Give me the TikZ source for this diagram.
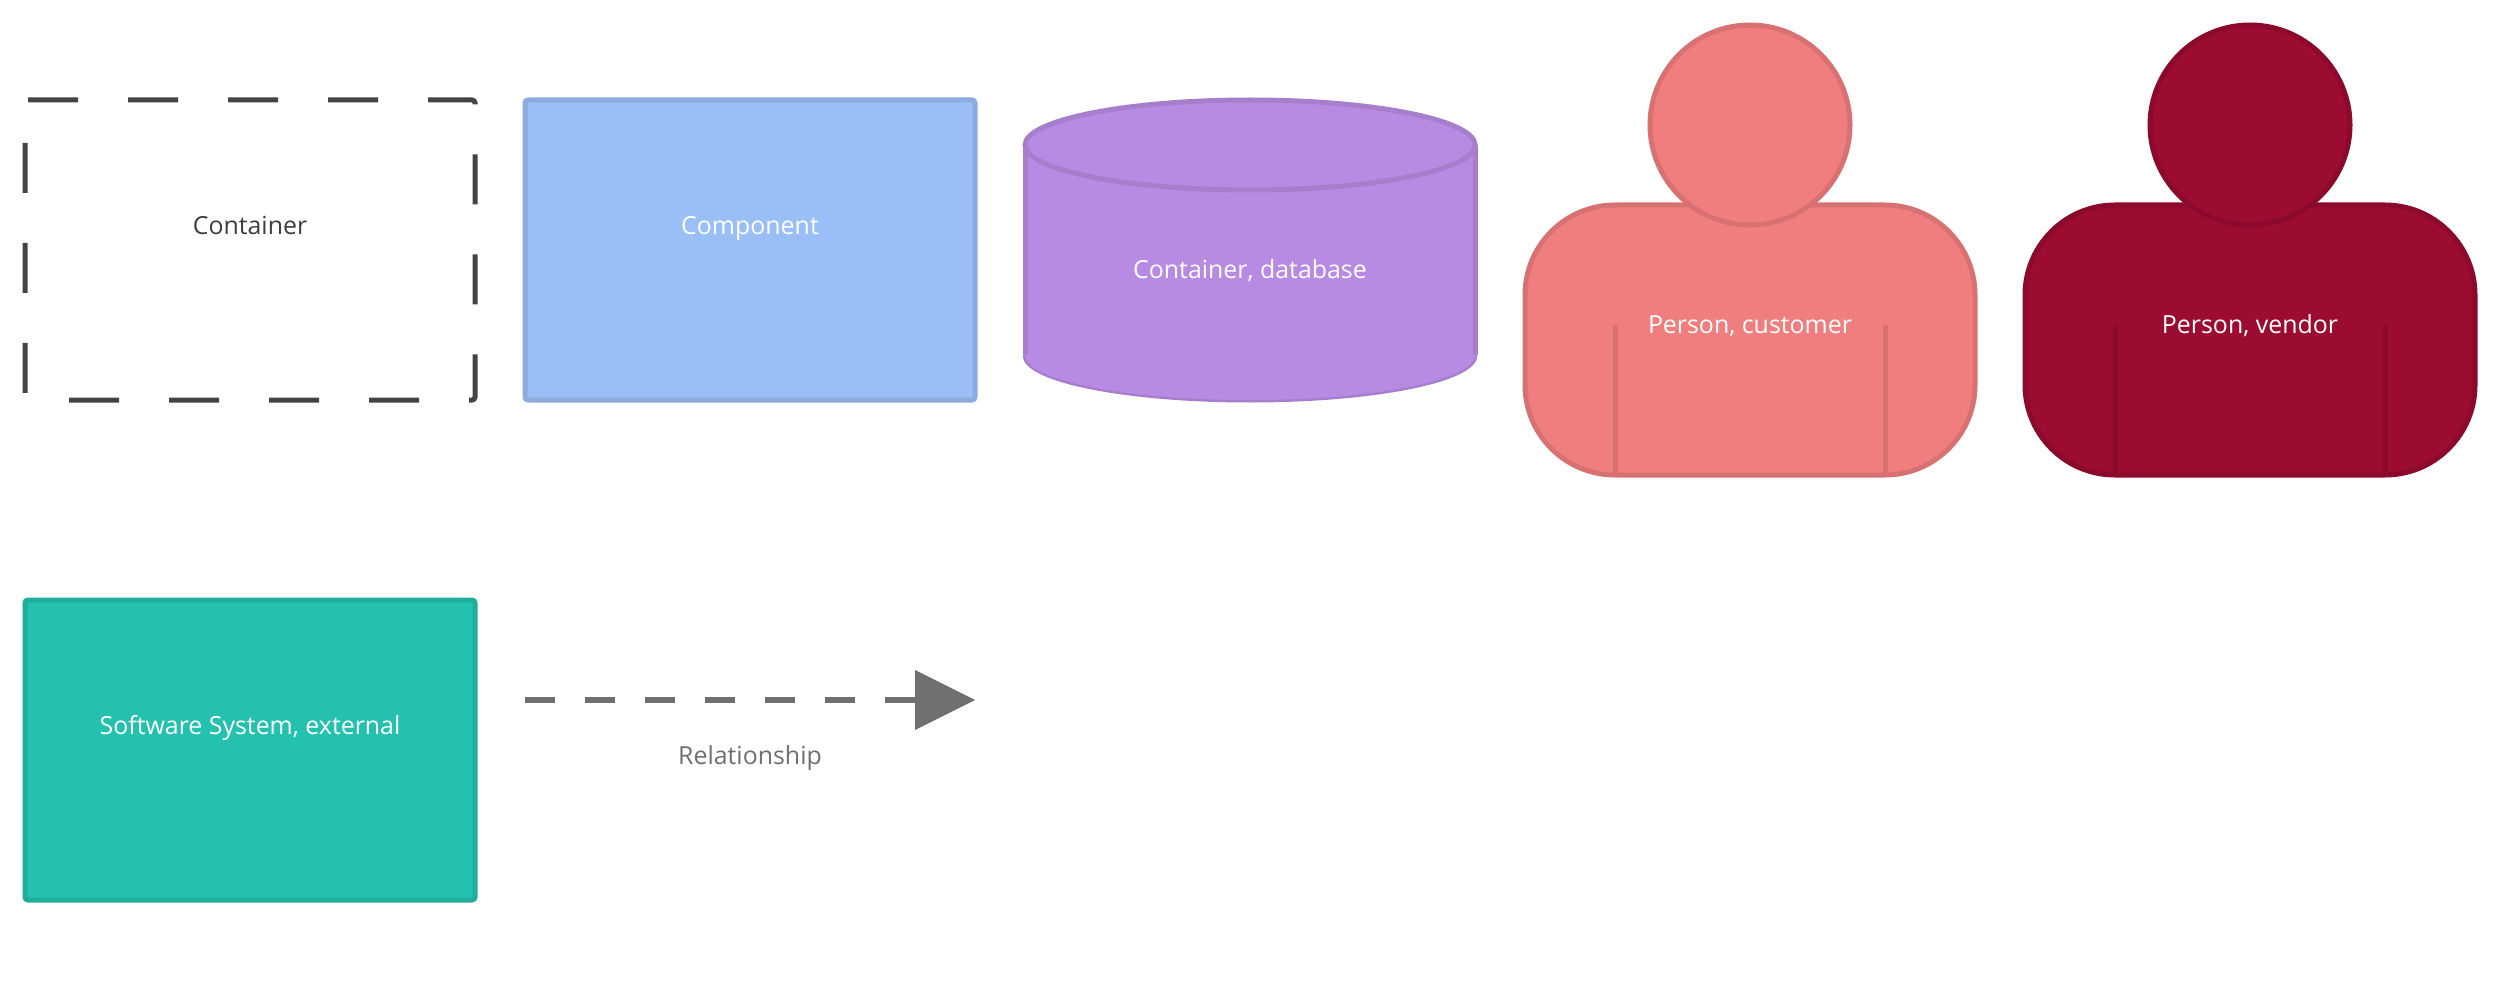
\documentclass[tikz,border=0pt]{standalone}
\usepackage{fontspec}
\setmainfont{Open Sans}
\usetikzlibrary{arrows.meta}
\definecolor{cBoxLine}{HTML}{444444}
\definecolor{cCompFill}{HTML}{99BFF6}
\definecolor{cCompLine}{HTML}{8BACDD}
\definecolor{cTealFill}{HTML}{24C2AE}
\definecolor{cTealLine}{HTML}{20AE9C}
\definecolor{cDbFill}{HTML}{B78BE4}
\definecolor{cDbLine}{HTML}{A67ECC}
\definecolor{cCustFill}{HTML}{F17E7E}
\definecolor{cCustLine}{HTML}{D87272}
\definecolor{cVendFill}{HTML}{9C0C31}
\definecolor{cVendLine}{HTML}{8B0A2B}
\definecolor{cRel}{HTML}{707070}
\definecolor{cDark}{HTML}{3F3F3F}
\tikzset{
  lbl/.style={anchor=base,inner sep=0pt,font=\fontsize{24.9}{30}\selectfont},
  boxnode/.style={rectangle,rounded corners=3pt,line width=5pt,minimum width=450pt,minimum height=300pt,inner sep=0pt,outer sep=0pt,anchor=north west},
  personpart/.style={line width=5pt},
}
\newcommand{\personshape}[4]{%
  % #1 centre x, #2 fill, #3 line, #4 name
  \draw[personpart,fill=#2,draw=#3,rounded corners=90pt] (#1-225,205) rectangle (#1+225,475);
  \draw[personpart,draw=#3] (#1-135,325) -- (#1-135,475);
  \draw[personpart,draw=#3] (#1+135,325) -- (#1+135,475);
  \node[circle,personpart,fill=#2,draw=#3,minimum size=200pt,inner sep=0pt,outer sep=0pt] (#4) at (#1,125) {};
}
\begin{document}
\begin{tikzpicture}[x=1pt,y=-1pt]
\useasboundingbox[fill=white] (0,0) rectangle (2500,1000);
% Container
\draw[line width=5pt,draw=cBoxLine,dash pattern=on 50pt off 50pt,rounded corners=3pt]
  (25,100) -- (475,100) -- (475,400) -- (25,400) -- cycle;
\node[lbl,text=cDark] (tContainer) at (250,234.5) {Container};
% Component
\node[boxnode,draw=cCompLine,fill=cCompFill] (component) at (525,100) {};
\node[lbl,text=white] (tComponent) at (750,234.5) {Component};
% Database
\draw[line width=5pt,draw=cDbLine] (1025,355) arc[start angle=180,end angle=360,x radius=225,y radius=-45];
\fill[cDbFill] (1025,145) -- (1025,355) arc[start angle=180,end angle=360,x radius=225,y radius=-45] -- (1475,145) -- cycle;
\draw[line width=5pt,draw=cDbLine] (1025,145) -- (1025,355) (1475,145) -- (1475,355);
\draw[line width=5pt,draw=cDbLine,fill=cDbFill] (1250,145) ellipse[x radius=225,y radius=45];
\node[lbl,text=white] (tDatabase) at (1250,279) {Container, database};
% Persons
\personshape{1750}{cCustFill}{cCustLine}{headCustomer}
\node[lbl,text=white] (tCustomer) at (1750,334) {Person, customer};
\personshape{2250}{cVendFill}{cVendLine}{headVendor}
\node[lbl,text=white] (tVendor) at (2250,334) {Person, vendor};
% External system
\node[boxnode,draw=cTealLine,fill=cTealFill] (external) at (25,600) {};
\node[lbl,text=white] (tExternal) at (250,734) {Software System, external};
% Relationship
\coordinate (relFrom) at (525,700);
\coordinate (relTo) at (975,700);
\draw[line width=6pt,draw=cRel,dash pattern=on 30pt off 30pt,-{Triangle[length=60pt,width=60pt,line width=0pt,fill=cRel]}] (relFrom) -- (relTo);
\node[lbl,text=cRel] (tRel) at (750,764) {Relationship};
\end{tikzpicture}
\end{document}
